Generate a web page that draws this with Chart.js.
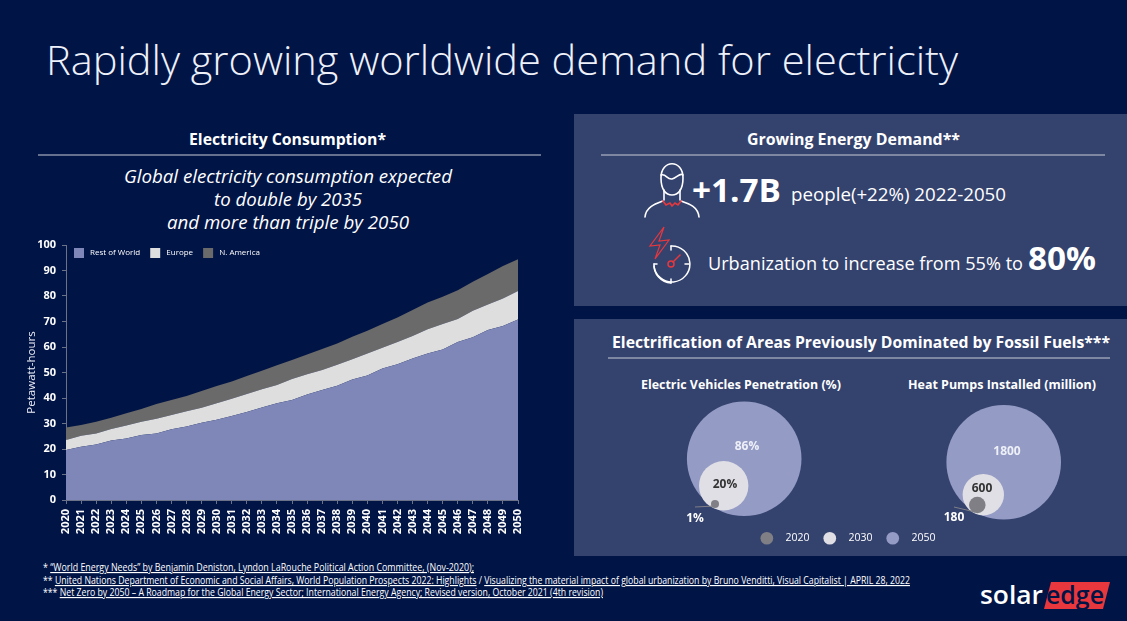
<!DOCTYPE html>
<html>
<head>
<meta charset="utf-8">
<title>Rapidly growing worldwide demand for electricity</title>
<script src="https://cdn.jsdelivr.net/npm/chart.js@4"></script>
<style>
  html, body { margin: 0; padding: 0; background: #001446; overflow: hidden; }
  #page { position: relative; width: 1127px; height: 621px; font-family: "Open Sans", sans-serif; }
  #page svg { position: absolute; left: 0; top: 0; }
  #page svg text { fill: #fff; }
  .wrap { position: absolute; }
  .foot { font-size: 11.5px; }
  .foot tspan.u { text-decoration: underline; }
</style>
</head>
<body>
<div id="page">
  <svg width="1127" height="621">
    <rect x="574" y="114" width="553" height="192" fill="#34426e"/>
    <rect x="574" y="319" width="553" height="237" fill="#34426e"/>

    <text x="46" y="75" font-size="41" font-weight="300" textLength="912" lengthAdjust="spacingAndGlyphs" style="fill:#eef1fa">Rapidly growing worldwide demand for electricity</text>

    <text x="189" y="145" font-size="15.5" font-weight="700" textLength="197" lengthAdjust="spacingAndGlyphs">Electricity Consumption*</text>
    <line x1="38" y1="155" x2="541" y2="155" stroke="#c9ccd6" stroke-width="1"/>
    <text x="124" y="183" font-size="18" font-style="italic" textLength="328" lengthAdjust="spacingAndGlyphs">Global electricity consumption expected</text>
    <text x="214" y="206" font-size="18" font-style="italic" textLength="148" lengthAdjust="spacingAndGlyphs">to double by 2035</text>
    <text x="167" y="229" font-size="18" font-style="italic" textLength="242" lengthAdjust="spacingAndGlyphs">and more than triple by 2050</text>

    <text x="747" y="145" font-size="15.5" font-weight="700" textLength="213" lengthAdjust="spacingAndGlyphs">Growing Energy Demand**</text>
    <line x1="601" y1="155" x2="1105" y2="155" stroke="#c9ccd6" stroke-width="1"/>
    <text x="692" y="202" font-size="33" font-weight="700" textLength="89" lengthAdjust="spacingAndGlyphs">+1.7B</text>
    <text x="791" y="201" font-size="18" textLength="215" lengthAdjust="spacingAndGlyphs">people(+22%) 2022-2050</text>
    <text x="708" y="270" font-size="18" textLength="315" lengthAdjust="spacingAndGlyphs">Urbanization to increase from 55% to</text>
    <text x="1028" y="270" font-size="33" font-weight="700" textLength="68" lengthAdjust="spacingAndGlyphs">80%</text>

    <!-- person icon -->
    <g fill="none" stroke="#fff" stroke-width="1.6" stroke-linecap="round">
      <path d="M661 178 C661 159 683 159 683 178 C683 190 678 195 672 195 C666 195 661 190 661 178 Z"/>
      <path d="M661 175 C666 173 667 180 672 179 C677 178 680 172 683 175"/>
      <path d="M664 190 L664 200 M680 190 L680 200"/>
      <path d="M645 217 C646 207 655 204 663 201 M699 217 C698 207 690 204 681 201"/>
      <path d="M663 201 L666 205 L670 203 L672 206 L675 203 L678 205 L681 201" stroke="#e8383d"/>
    </g>
    <!-- gauge icon -->
    <g fill="none" stroke="#fff" stroke-width="1.5" stroke-linecap="round">
      <path d="M671 246 A18 18 0 1 1 654 266"/>
      <path d="M654 264 A18 18 0 0 0 671 283"/>
      <path d="M671 246 L671 250 M689 264 L685 264 M671 283 L671 279 M654 264 L657 264"/>
      <circle cx="671" cy="264" r="3" stroke="#e8383d"/>
      <path d="M673 262 L680 255" stroke="#e8383d"/>
      <path d="M664 227 L650 246 L660 245 L655 259 L669 240 L659 241 Z" stroke="#e8383d" stroke-width="1.2"/>
    </g>

    <text x="612" y="348" font-size="16" font-weight="700" textLength="498" lengthAdjust="spacingAndGlyphs">Electrification of Areas Previously Dominated by Fossil Fuels***</text>
    <line x1="608" y1="358" x2="1110" y2="358" stroke="#c9ccd6" stroke-width="1"/>
    <text x="641" y="389" font-size="12" font-weight="700" textLength="200" lengthAdjust="spacingAndGlyphs">Electric Vehicles Penetration (%)</text>
    <text x="908" y="389" font-size="12" font-weight="700" textLength="188" lengthAdjust="spacingAndGlyphs">Heat Pumps Installed (million)</text>

    <text class="foot" x="43" y="571" textLength="431" lengthAdjust="spacingAndGlyphs">* <tspan class="u">“World Energy Needs” by Benjamin Deniston,  Lyndon LaRouche Political Action Committee, (Nov-2020);</tspan></text>
    <text class="foot" x="43" y="584" textLength="867" lengthAdjust="spacingAndGlyphs">** <tspan class="u">United Nations Department of Economic and Social Affairs, World Population Prospects 2022: Highlights</tspan>  /  <tspan class="u">Visualizing the material impact of global urbanization by Bruno Venditti, Visual Capitalist | APRIL 28, 2022</tspan></text>
    <text class="foot" x="43" y="596" textLength="560" lengthAdjust="spacingAndGlyphs">*** <tspan class="u">Net Zero by 2050 – A Roadmap for the Global Energy Sector; International Energy Agency; Revised version, October 2021 (4th revision)</tspan></text>

    <!-- logo -->
    <text x="980" y="604" font-size="26" font-weight="600" textLength="63" lengthAdjust="spacingAndGlyphs">solar</text>
    <path d="M1051 582 L1110 582 L1103 609 L1044 609 Z" fill="#e8383d"/>
    <text x="1046" y="604" font-size="26" font-weight="600" textLength="58" lengthAdjust="spacingAndGlyphs" style="fill:#001446">edge</text>
  </svg>

  <div class="wrap" style="left:0;top:230px;width:560px;height:310px"><canvas id="grafico"></canvas></div>
  <div class="wrap" style="left:574px;top:370px;width:553px;height:186px"><canvas id="burbujas"></canvas></div>
</div>

<script>
// Consumo por región, Petawatt-hours
const years = ['2020','2021','2022','2023','2024','2025','2026','2027','2028','2029','2030',
  '2031','2032','2033','2034','2035','2036','2037','2038','2039','2040',
  '2041','2042','2043','2044','2045','2046','2047','2048','2049','2050'];
const restOfWorld = [19.6,20.9,21.8,23.3,24.1,25.5,26.1,27.7,28.8,30.3,31.5,
  32.9,34.5,36.3,37.9,39.2,41.4,43.1,44.8,47.3,48.8,
  51.6,53.2,55.5,57.5,59.0,62.0,63.8,66.7,68.2,70.8];
const europe = [3.9,4.3,4.3,4.5,5.1,5.2,5.8,5.6,6.0,5.9,6.4,
  6.8,7.1,7.1,7.2,8.3,7.9,7.9,8.2,7.9,8.7,
  8.1,8.8,8.8,9.5,10.0,9.0,10.4,10.0,10.8,11.2];
const nAmerica = [4.9,4.2,4.6,4.5,4.8,5.0,5.7,5.9,6.0,6.5,6.8,
  6.8,7.0,7.3,7.7,7.4,7.8,8.2,8.4,8.8,8.9,
  9.3,9.6,10.2,10.5,10.7,11.3,11.4,11.9,12.8,12.4];
const yTicksMax = 100;

// Burbujas
const bubbleYears = ['2020','2030','2050'];
const evPenetration = [1,20,86];
const heatPumps = [180,600,1800];

// Colocación de las burbujas (x, y en píxeles de la página, r), no son datos
const evPlace = [[715,504,4],[723.7,485.7,24.7],[744.2,458.8,57.3]];
const hpPlace = [[977.3,505,8.3],[983.3,494.7,20.7],[1003.7,462.3,57.3]];
const evLabelPos = [[695,518.5,'#fff'],[725,484.5,'#333'],[747,446.5,'#eef0f8']];
const hpLabelPos = [[954,517.5,'#fff'],[982,488.5,'#333'],[1007,451.5,'#eef0f8']];
const bubbleColors = ['#7f7f85','#dfdfe5','#949bc4'];

Chart.defaults.font.family = '"Open Sans", sans-serif';
Chart.defaults.animation = false;

// La leyenda no quita espacio al gráfico, se coloca a mano
const legendaLibre = {
  id: 'legendaLibre',
  beforeInit(chart) {
    const fit = chart.legend.fit;
    chart.legend.fit = function () { fit.call(this); this.height = 0; };
  },
  afterLayout(chart, args, opts) {
    chart.legend.left = opts.left;
    chart.legend.right = opts.right;
    chart.legend.top = opts.top;
    chart.legend.bottom = opts.top + 30;
  }
};

const ctx = document.getElementById('grafico').getContext('2d');
new Chart(ctx, {
  type: 'line',
  plugins: [legendaLibre],
  data: {
    labels: years,
    datasets: [
      { label: '\u00a0Rest of World', data: restOfWorld, backgroundColor: '#7e87b7', fill: 'origin' },
      { label: '\u00a0Europe', data: europe, backgroundColor: '#dedede', fill: '-1' },
      { label: '\u00a0N. America', data: nAmerica, backgroundColor: '#6a6a6a', fill: '-1' }
    ]
  },
  options: {
    responsive: true,
    maintainAspectRatio: false,
    layout: { padding: { top: 15, right: 42, left: 0, bottom: 0 } },
    elements: { point: { radius: 0 }, line: { borderWidth: 0, tension: 0 } },
    plugins: {
      tooltip: { enabled: false },
      legendaLibre: { left: 64, right: 518, top: 8 },
      legend: {
        position: 'top',
        align: 'start',
        fullSize: false,
        labels: { color: '#fff', boxWidth: 10, boxHeight: 10, padding: 10, font: { size: 8 } }
      }
    },
    scales: {
      x: {
        offset: false,
        grid: { drawOnChartArea: false, color: '#6b7288', tickLength: 4 },
        border: { color: '#6b7288' },
        ticks: { color: '#fff', autoSkip: false, minRotation: 90, maxRotation: 90, padding: 5, font: { size: 11, weight: 'bold' } },
        afterFit(scale) { scale.height = 40; }
      },
      y: {
        stacked: true,
        min: 0,
        max: yTicksMax,
        grid: { drawOnChartArea: false, color: '#6b7288', tickLength: 4 },
        border: { color: '#6b7288' },
        ticks: { color: '#fff', stepSize: 10, padding: 6, font: { size: 11, weight: 'bold' } },
        title: { display: true, text: 'Petawatt-hours', color: '#eef0f8', font: { size: 11.5 }, padding: { top: 25, bottom: 0 } },
        afterFit(scale) { scale.width = 66; }
      }
    }
  }
});

// Etiquetas y líneas guía de las burbujas
const etiquetas = {
  id: 'etiquetas',
  afterDatasetsDraw(chart) {
    const c = chart.ctx;
    const px = v => chart.scales.x.getPixelForValue(v);
    const py = v => chart.scales.y.getPixelForValue(v);
    c.save();
    c.strokeStyle = '#7f7f85';
    c.lineWidth = 1;
    [[695,507,715,506],[954,507,975,512]].forEach(l => {
      c.beginPath();
      c.moveTo(px(l[0]), py(l[1]));
      c.lineTo(px(l[2]), py(l[3]));
      c.stroke();
    });
    c.font = 'bold 12px "Open Sans", sans-serif';
    c.textAlign = 'center';
    c.textBaseline = 'middle';
    evPenetration.forEach((v, i) => {
      c.fillStyle = evLabelPos[i][2];
      c.fillText(v + '%', px(evLabelPos[i][0]), py(evLabelPos[i][1]));
    });
    heatPumps.forEach((v, i) => {
      c.fillStyle = hpLabelPos[i][2];
      c.fillText(String(v), px(hpLabelPos[i][0]), py(hpLabelPos[i][1]));
    });
    c.restore();
  }
};

const burbujas = document.getElementById('burbujas').getContext('2d');
new Chart(burbujas, {
  type: 'bubble',
  plugins: [legendaLibre, etiquetas],
  data: {
    datasets: bubbleYears.map((year, i) => ({
      label: '\u00a0\u00a0\u00a0' + year,
      backgroundColor: bubbleColors[i],
      borderWidth: 0,
      clip: false,
      data: [
        { x: evPlace[i][0], y: evPlace[i][1], r: evPlace[i][2], v: evPenetration[i] },
        { x: hpPlace[i][0], y: hpPlace[i][1], r: hpPlace[i][2], v: heatPumps[i] }
      ]
    }))
  },
  options: {
    responsive: true,
    maintainAspectRatio: false,
    layout: { padding: 0, autoPadding: false },
    plugins: {
      tooltip: { enabled: false },
      legendaLibre: { left: 0, right: 549, top: 148 },
      legend: {
        position: 'bottom',
        align: 'center',
        labels: { color: '#fff', usePointStyle: true, pointStyle: 'circle', boxHeight: 9, padding: 15, font: { size: 10.5 } }
      }
    },
    scales: {
      x: { type: 'linear', display: false, min: 574, max: 1127 },
      y: { type: 'linear', display: false, min: 370, max: 556, reverse: true }
    }
  }
});
</script>
</body>
</html>
